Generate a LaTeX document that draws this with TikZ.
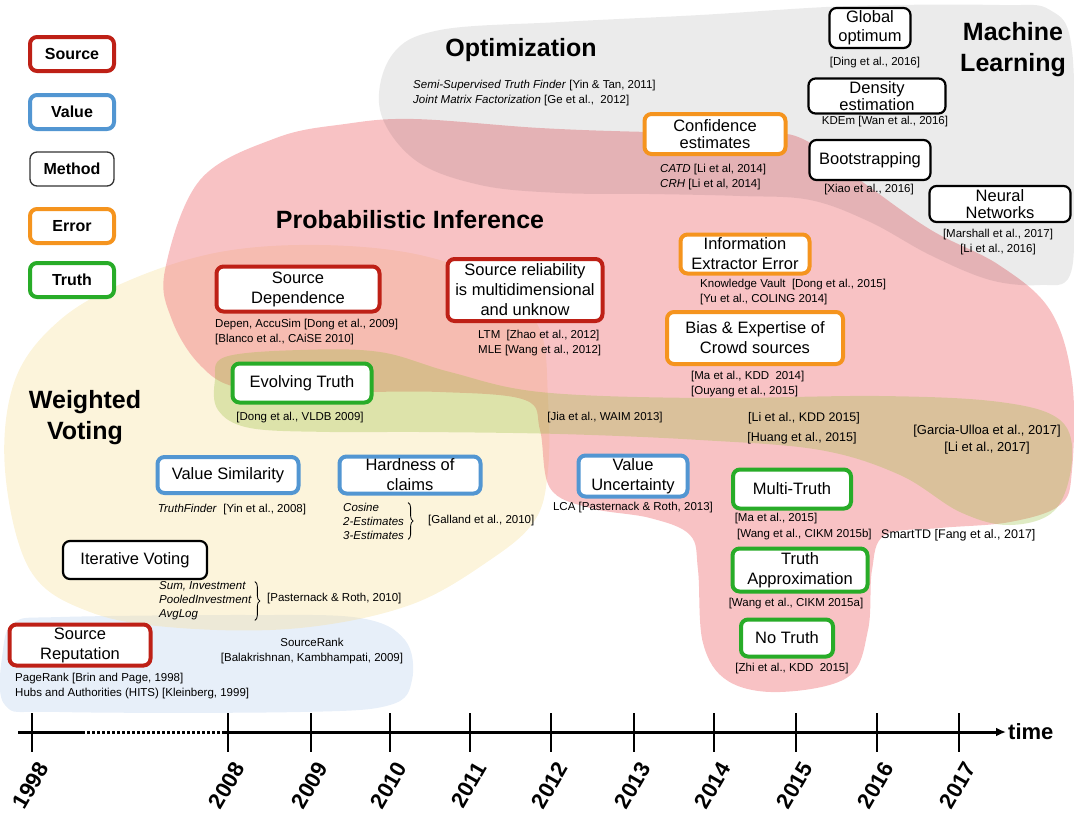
\documentclass[tikz,border=0pt]{standalone}
\usepackage{fontspec}
\setmainfont{Liberation Sans}
\usetikzlibrary{arrows.meta,decorations.pathreplacing}
\definecolor{srcred}{RGB}{190,32,22}
\definecolor{valblue}{RGB}{82,150,210}
\definecolor{errorange}{RGB}{245,148,30}
\definecolor{truthgreen}{RGB}{40,172,40}
\definecolor{pinkfill}{RGB}{240,120,125}
\definecolor{yellowfill}{RGB}{247,225,160}
\definecolor{bluefill}{RGB}{160,190,230}
\definecolor{greenfill}{RGB}{150,190,60}

\begin{document}
\begin{tikzpicture}[x=1pt,y=-1pt,
	box/.style={draw,fill=white,rounded corners=7pt,align=center,inner sep=1pt,font=\fontsize{16.5}{20}\selectfont},
	tight/.style={font=\fontsize{16.5}{17}\selectfont},
	src/.style={box,draw=srcred,line width=4pt},
	val/.style={box,draw=valblue,line width=4pt},
	err/.style={box,draw=errorange,line width=4pt},
	tru/.style={box,draw=truthgreen,line width=4pt},
	meth/.style={box,draw=black,line width=2.2pt},
	legend/.style={minimum width=84pt,minimum height=34pt,font=\fontsize{16}{19}\selectfont\bfseries},
	cite/.style={inner sep=0pt,align=center,font=\fontsize{11.5}{14.5}\selectfont},
	bigcite/.style={cite,font=\fontsize{12.5}{17}\selectfont},
	heading/.style={inner sep=0pt,align=center,font=\fontsize{25}{31}\selectfont\bfseries},
	region/.style={smooth cycle,tension=0.6}]
		\useasboundingbox (0,0) rectangle (1074,815);
		
		\fill[bluefill,fill opacity=.25] plot[region] coordinates {(3,650) (15,622) (60,617) (250,615) (360,618) (405,640) (412,680) (390,705) (300,712) (60,712) (5,705)};
		\fill[yellowfill,fill opacity=.38] plot[region] coordinates {(5,470) (15,380) (60,320) (130,280) (220,252) (320,245) (420,255) (500,285) (540,330) (548,400) (548,470) (535,520) (490,560) (410,605) (300,628) (180,628) (90,612) (30,570)};
		\fill[pinkfill,fill opacity=.45] plot[region] coordinates {(165,270) (200,180) (276,138) (345,124) (414,119) (540,128) (650,132) (760,133) (805,140) (864,183) (931,230) (999,265) (1050,310) (1072,380) (1072,470) (1060,505) (1010,522) (940,528) (885,535) (872,570) (868,630) (848,677) (780,692) (728,681) (703,643) (698,570) (690,535) (650,518) (590,508) (550,488) (540,430) (525,400) (440,392) (330,392) (240,388) (200,365) (172,320)};
		\fill[black,fill opacity=.08] plot[region] coordinates {(380,110) (392,55) (440,30) (560,22) (700,15) (850,6) (1000,5) (1050,10) (1072,50) (1074,200) (1070,275) (1040,285) (990,280) (930,255) (870,222) (810,200) (740,196) (650,194) (560,193) (480,185) (415,160)};
		\fill[greenfill,fill opacity=.3] plot[region] coordinates {(215,380) (225,357) (300,350) (380,352) (450,372) (540,392) (700,398) (880,396) (1000,402) (1060,420) (1072,460) (1055,510) (1010,525) (960,512) (900,475) (820,450) (700,440) (560,434) (420,432) (330,432) (250,428) (218,410)};
		
		\node[heading] (hopt) at (521,50) {Optimization};
		\node[heading] (hml) at (1013,50) {Machine\\Learning};
		\node[heading] (hprob) at (410,220) {Probabilistic Inference};
		\node[heading] (hvote) at (85,418) {Weighted\\Voting};
		
		\node[src,legend] (lgsrc) at (72,54) {Source};
		\node[val,legend] (lgval) at (72,112) {Value};
		\node[meth,legend,line width=1.3pt,draw=black!80] (lgmeth) at (72,169) {Method};
		\node[err,legend] (lgerr) at (72,226) {Error};
		\node[tru,legend] (lgtru) at (72,280) {Truth};
		
		\node[meth,minimum width=81pt,minimum height=40pt,font=\fontsize{16.5}{19}\selectfont] (glob) at (870,28) {Global\\optimum};
		\node[meth,tight,minimum width=137pt,minimum height=35pt] (dens) at (877,96) {Density\\estimation};
		\node[meth,minimum width=121pt,minimum height=40pt] (boot) at (870,160) {Bootstrapping};
		\node[meth,tight,minimum width=141pt,minimum height=36pt] (neural) at (1000,204) {Neural\\Networks};
		\node[err,tight,minimum width=141pt,minimum height=40pt] (conf) at (715,134) {Confidence\\estimates};
		\node[err,minimum width=129pt,minimum height=39pt] (infoext) at (745,254) {Information\\Extractor Error};
		\node[err,minimum width=176pt,minimum height=52pt] (bias) at (755,338) {Bias \& Expertise of\\Crowd sources};
		\node[src,minimum width=163pt,minimum height=45pt] (srcdep) at (298,289) {Source\\Dependence};
		\node[src,minimum width=155pt,minimum height=62pt] (srcrel) at (525,290) {Source reliability\\is multidimensional\\and unknow};
		\node[tru,minimum width=139pt,minimum height=39pt] (evolve) at (302,383) {Evolving Truth};
		\node[val,minimum width=141pt,minimum height=36pt] (valsim) at (228,475) {Value Similarity};
		\node[val,minimum width=141pt,minimum height=37pt] (hard) at (410,475) {Hardness of\\claims};
		\node[val,minimum width=109pt,minimum height=41pt] (valunc) at (633,476) {Value\\Uncertainty};
		\node[tru,minimum width=118pt,minimum height=39pt] (multi) at (792,489) {Multi-Truth};
		\node[tru,minimum width=135pt,minimum height=43pt] (approx) at (800,570) {Truth\\Approximation};
		\node[tru,minimum width=92pt,minimum height=37pt] (notruth) at (787,638) {No Truth};
		\node[meth,minimum width=144pt,minimum height=38pt] (itvote) at (135,560) {Iterative Voting};
		\node[src,minimum width=141pt,minimum height=41pt] (srcrep) at (80,645) {Source\\Reputation};
		
		\node[cite,align=left,anchor=west] (copt) at (413,93) {\textit{Semi-Supervised Truth Finder} [Yin \& Tan, 2011]\\\textit{Joint Matrix Factorization} [Ge et al.,~~2012]};
		\node[cite] (cglob) at (875,63) {[Ding et al., 2016]};
		\node[cite] (cdens) at (885,122) {KDEm [Wan et al., 2016]};
		\node[cite,align=left,anchor=west] (cconf) at (660,177) {\textit{CATD} [Li et al, 2014]\\\textit{CRH} [Li et al, 2014]};
		\node[cite] (cboot) at (869,190) {[Xiao et al., 2016]};
		\node[cite] (cneural) at (998,242) {[Marshall et al., 2017]\\{}[Li et al., 2016]};
		\node[cite,align=left,anchor=west] (cinfo) at (700,292) {Knowledge Vault~~[Dong et al., 2015]\\{}[Yu et al., COLING 2014]};
		\node[cite,align=left,anchor=west] (csrcdep) at (215,332) {Depen, AccuSim [Dong et al., 2009]\\{}[Blanco et al., CAiSE 2010]};
		\node[cite,align=left,anchor=west] (csrcrel) at (478,343) {LTM~~[Zhao et al., 2012]\\MLE [Wang et al., 2012]};
		\node[cite,align=left,anchor=west] (cbias) at (691,384) {[Ma et al., KDD~~2014]\\{}[Ouyang et al., 2015]};
		\node[cite] (cevolve) at (300,418) {[Dong et al., VLDB 2009]};
		\node[cite] (cjia) at (605,418) {[Jia et al., WAIM 2013]};
		\node[bigcite] (cli) at (804,418) {[Li et al., KDD 2015]};
		\node[bigcite] (chuang) at (802,438) {[Huang et al., 2015]};
		\node[cite,font=\fontsize{13}{17}\selectfont] (cgarcia) at (987,440) {[Garcia-Ulloa et al., 2017]\\{}[Li et al., 2017]};
		\node[cite] (cvalsim) at (232,510) {\textit{TruthFinder}~~[Yin et al., 2008]};
		\node[cite,align=left,anchor=west,font=\fontsize{11.5}{14}\selectfont] (chard) at (343,521) {\textit{Cosine}\\\textit{2-Estimates}\\\textit{3-Estimates}};
		\node[cite,anchor=west] (cgalland) at (428,521) {[Galland et al., 2010]};
		\node[cite] (cvalunc) at (633,508) {LCA [Pasternack \& Roth, 2013]};
		\node[cite] (cmulti) at (776,519) {[Ma et al., 2015]};
		\node[cite,anchor=west] (cmulti2) at (737,535) {[Wang et al., CIKM 2015b]};
		\node[bigcite,anchor=west] (csmart) at (881,535) {SmartTD [Fang et al., 2017]};
		\node[cite] (capprox) at (796,604) {[Wang et al., CIKM 2015a]};
		\node[cite] (cnotruth) at (792,669) {[Zhi et al., KDD~~2015]};
		\node[cite,align=left,anchor=west,font=\fontsize{11.5}{14}\selectfont] (citvote) at (159,601) {\textit{Sum, Investment}\\\textit{PooledInvestment}\\\textit{AvgLog}};
		\node[cite,anchor=west] (cpast) at (267,599) {[Pasternack \& Roth, 2010]};
		\node[cite] (csrank) at (312,651) {SourceRank\\{}[Balakrishnan, Kambhampati, 2009]};
		\node[cite,align=left,anchor=west] (csrcrep) at (15,686) {PageRank [Brin and Page, 1998]\\Hubs and Authorities (HITS) [Kleinberg, 1999]};
		
		\draw[thick,decorate,decoration={brace,amplitude=5pt}] ([xshift=4pt]chard.north east) -- ([xshift=4pt]chard.south east);
		\draw[thick,decorate,decoration={brace,amplitude=5pt}] ([xshift=3pt]citvote.north east) -- ([xshift=3pt]citvote.south east);
		
		\coordinate (t0) at (18,732);
		\coordinate (ta) at (82,732);
		\coordinate (tb) at (224,732);
		\node[inner sep=0pt,anchor=west,font=\fontsize{22}{22}\selectfont\bfseries] (time) at (1008,732) {time};
		\draw[line width=3pt] (t0) -- (ta);
		\draw[line width=3pt,dotted] (ta) -- (tb);
		\draw[line width=3pt,-{Latex[length=10pt,width=9pt]},shorten >=2pt] (tb) -- (time.west);
		\foreach \x/\yr in {32/1998,228/2008,311/2009,390/2010,470/2011,551/2012,634/2013,714/2014,796/2015,877/2016,959/2017}{
			\draw[line width=1.8pt] (\x,713) -- (\x,752);
			\node[rotate=60,anchor=east,inner sep=0pt,font=\fontsize{22}{22}\selectfont\bfseries] (y\yr) at (\x+11,764) {\yr};
		}
	\end{tikzpicture}
\end{document}
